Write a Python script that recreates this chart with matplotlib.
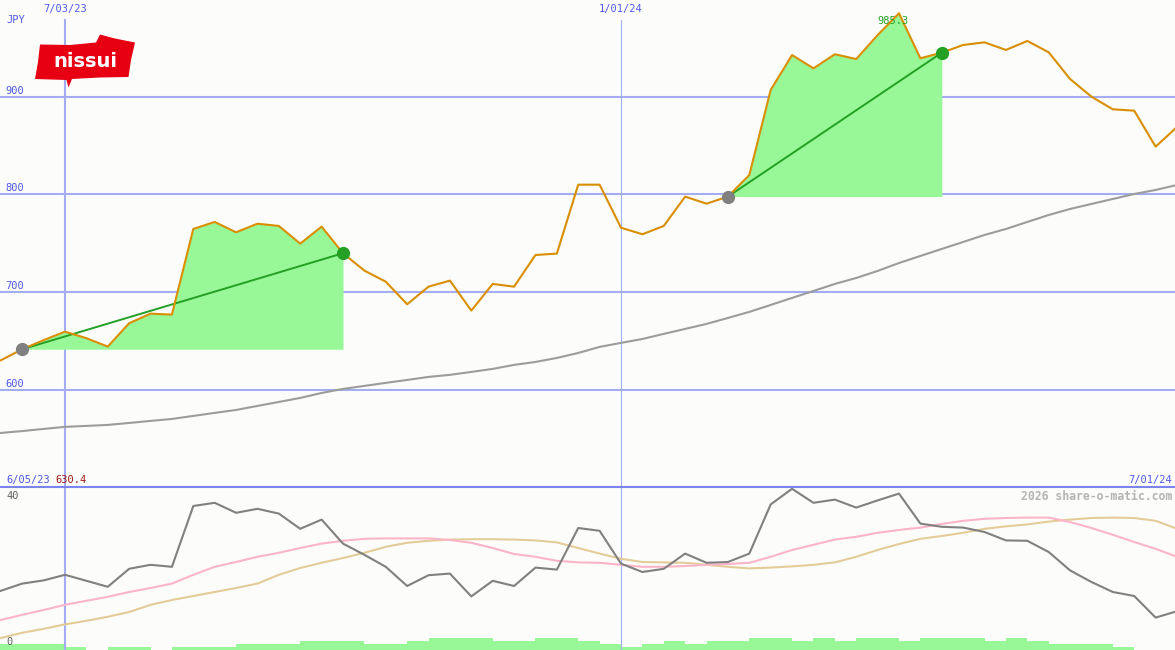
import matplotlib
matplotlib.use("Agg")
import matplotlib.dates as mdates
import matplotlib.pyplot as plt
import numpy as np
import pandas as pd
from matplotlib.patches import Polygon

W, H = 1175, 650
SPLIT = 487  # pixel row of the panel separator

BG = "#fcfdfa"
GRID = "#a4acf4"
SEP = "#7c84f0"
BLUE_TXT = "#5058e8"
ORANGE = "#d98e00"
FILL = "#98f898"
TREND = "#24a024"

# weekly closes, 12 Jun 2023 .. 24 Jun 2024 (JPY)
weeks = pd.date_range("2023-06-12", periods=56, freq="7D")
price = [
    630.4, 641.7, 651.0, 659.7, 653.0, 644.4, 668.3, 678.1, 677.1, 764.7,
    771.9, 761.3, 770.1, 767.8, 749.7, 767.1, 739.9, 722.1, 710.8, 687.7,
    705.7, 711.9, 681.2, 708.5, 705.7, 738.1, 739.5, 810.0, 810.0, 766.0,
    759.3, 767.8, 797.8, 790.6, 797.8, 819.9, 906.9, 942.6, 929.0, 943.4,
    938.5, 963.0, 985.3, 939.3, 945.0, 952.9, 955.6, 947.8, 957.0, 945.4,
    918.1, 900.0, 887.1, 885.7, 848.9, 869.0,
]
ma_long = [
    556.1, 558.0, 560.2, 562.3, 563.3, 564.3, 566.3, 568.4, 570.4, 573.5,
    576.6, 579.6, 583.7, 587.8, 591.9, 597.0, 601.1, 604.2, 607.3, 610.3,
    613.4, 615.5, 618.5, 621.6, 625.7, 628.7, 632.8, 637.9, 644.1, 648.2,
    652.2, 657.4, 662.5, 667.6, 673.7, 679.9, 687.0, 694.2, 701.3, 708.5,
    714.6, 721.8, 729.9, 737.1, 744.3, 751.4, 758.6, 764.7, 771.9, 779.0,
    785.2, 790.3, 795.4, 800.5, 804.6, 809.7,
]
osc = [
    14.8, 16.6, 17.4, 18.8, 17.3, 15.8, 20.3, 21.3, 20.8, 36.0,
    36.8, 34.3, 35.3, 34.1, 30.3, 32.6, 26.6, 23.8, 20.8, 16.0,
    18.7, 19.1, 13.4, 17.3, 16.0, 20.6, 20.1, 30.5, 29.8, 21.6,
    19.5, 20.3, 24.1, 21.8, 22.0, 24.1, 36.4, 40.3, 36.8, 37.6,
    35.6, 37.4, 39.1, 31.6, 30.8, 30.6, 29.5, 27.4, 27.3, 24.5,
    19.9, 17.0, 14.5, 13.5, 8.1, 9.7,
]
osc_fast = [
    7.5, 8.8, 10.0, 11.3, 12.3, 13.3, 14.5, 15.5, 16.6, 18.8,
    20.8, 22.0, 23.3, 24.3, 25.5, 26.6, 27.3, 27.8, 27.9, 27.9,
    27.9, 27.5, 26.8, 25.5, 24.0, 23.3, 22.3, 21.9, 21.8, 21.3,
    20.8, 20.8, 21.0, 21.3, 21.5, 21.8, 23.3, 25.0, 26.3, 27.6,
    28.3, 29.3, 30.0, 30.6, 31.5, 32.3, 32.8, 33.0, 33.1, 33.1,
    32.0, 30.5, 28.8, 27.0, 25.3, 23.3,
]
osc_slow = [
    3.0, 4.3, 5.3, 6.4, 7.3, 8.3, 9.5, 11.3, 12.5, 13.5,
    14.5, 15.5, 16.6, 18.8, 20.5, 21.8, 23.0, 24.3, 25.8, 26.8,
    27.3, 27.6, 27.7, 27.7, 27.6, 27.4, 26.9, 25.5, 24.1, 22.8,
    22.0, 21.9, 21.8, 21.3, 20.8, 20.4, 20.6, 20.9, 21.3, 21.9,
    23.3, 25.0, 26.5, 27.8, 28.5, 29.3, 30.3, 30.9, 31.4, 32.1,
    32.6, 33.0, 33.1, 33.0, 32.3, 30.3,
]
volume = [
    2, 2, 2, 2, 1, 0, 1, 1, 0, 1,
    1, 1, 2, 2, 2, 3, 3, 3, 2, 2,
    3, 4, 4, 4, 3, 3, 4, 4, 3, 2,
    1, 2, 3, 2, 3, 3, 4, 4, 3, 4,
    3, 4, 4, 3, 4, 4, 4, 3, 4, 3,
    2, 2, 2, 1, 0, 0,
]
swings = [("2023-06-19", "2023-10-02"), ("2024-02-05", "2024-04-15")]
grid_prices = [600, 700, 800, 900]
grid_dates = ["2023-07-03", "2024-01-01"]

plt.rcParams["font.family"] = ["DejaVu Sans Mono"]

fig = plt.figure(figsize=(W / 100, H / 100), dpi=100, facecolor=BG)
ax = fig.add_axes([0, (H - SPLIT) / H, 1, SPLIT / H])
axo = fig.add_axes([0, 0, 1, (H - SPLIT) / H])
for a in (ax, axo):
    a.set_facecolor(BG)
    a.set_xticks([])
    a.set_yticks([])
    for s in a.spines.values():
        s.set_visible(False)

# x scale: 7/03/23 sits at px 65, 1/01/24 at px 621
d0 = mdates.date2num(pd.Timestamp(grid_dates[0]))
d1 = mdates.date2num(pd.Timestamp(grid_dates[1]))
ppd = (621 - 65) / (d1 - d0)
xlim = (d0 - 65 / ppd, d0 + (W - 65) / ppd)
ax.set_xlim(xlim)
axo.set_xlim(xlim)
ax.set_ylim(500.8, 998.9)
axo.set_ylim(0, (H - SPLIT) / 4)

x = mdates.date2num(weeks)
price = np.array(price)

for gp in grid_prices:
    ax.axhline(gp, color=GRID, lw=1.5, zorder=1)
    ax.annotate(str(gp), (0, gp), xycoords=("axes fraction", "data"),
                xytext=(5, 1), textcoords="offset pixels", fontsize=7.5,
                color=BLUE_TXT, va="bottom")
for i, gd in enumerate(grid_dates):
    gx = mdates.date2num(pd.Timestamp(gd))
    lw = 1.5 if i == 0 else 0.8
    ax.axvline(gx, ymax=1 - 20 / SPLIT, color=GRID, lw=lw, zorder=1)
    axo.axvline(gx, color=GRID, lw=lw, zorder=1)
    ax.text(gx, 1 - 9 / SPLIT, pd.Timestamp(gd).strftime("%-m/%d/%y"),
            transform=ax.get_xaxis_transform(), ha="center", va="center",
            fontsize=7.5, color=BLUE_TXT)

# swing fills and trend lines
for start, end in swings:
    s = int(np.searchsorted(weeks, pd.Timestamp(start)))
    e = int(np.searchsorted(weeks, pd.Timestamp(end)))
    base = price[s]
    ax.fill_between(x[s:e + 1], base, price[s:e + 1], color=FILL, lw=0, zorder=2)
    ax.plot([x[s], x[e]], [price[s], price[e]], color=TREND, lw=1.4, zorder=4)
    ax.plot(x[s], price[s], "o", ms=8.5, color="#808080", zorder=5)
    ax.plot(x[e], price[e], "o", ms=8.5, color=TREND, zorder=5)

ax.plot(x, ma_long, color="#9c9c9c", lw=1.5, zorder=3)
ax.plot(x, price, color=ORANGE, lw=1.5, zorder=4)

pk = int(np.argmax(price))
ax.annotate(f"{price[pk]:.1f}", (x[pk], price[pk]), xytext=(-6, -8),
            textcoords="offset pixels", ha="center", va="center",
            fontsize=7.5, color=TREND, zorder=6)

ax.text(6 / W, 1 - 20 / SPLIT, "JPY", transform=ax.transAxes, fontsize=7.5,
        color=BLUE_TXT, va="center")

# lower panel
axv = axo.twinx()
axv.set_ylim(0, (H - SPLIT) / 3)
axv.set_yticks([])
for s in axv.spines.values():
    s.set_visible(False)
axv.bar(x, volume, width=-7, align="edge", color=FILL, lw=0, zorder=1)
axo.set_zorder(axv.get_zorder() + 1)
axo.patch.set_visible(False)

axo.plot(x, osc_slow, color="#e4cc98", lw=1.5, zorder=3)
axo.plot(x, osc_fast, color="#fcb4c8", lw=1.5, zorder=3)
axo.plot(x, osc, color="#808080", lw=1.5, zorder=4)
axo.axhline(axo.get_ylim()[1], color=SEP, lw=1.5, clip_on=False, zorder=5)

axo.text(6 / W, 1 - 9 / (H - SPLIT), "40", transform=axo.transAxes,
         fontsize=7.5, color="#606060", va="center")
axo.text(6 / W, 8 / (H - SPLIT), "0", transform=axo.transAxes,
         fontsize=7.5, color="#606060", va="center")
fig.text(6 / W, 1 - 480 / H, "6/05/23", fontsize=7.5, color=BLUE_TXT, va="center")
fig.text(55 / W, 1 - 480 / H, f"{price.min():.1f}", fontsize=7.5,
         color="#a01818", va="center")
fig.text(1172 / W, 1 - 480 / H, "7/01/24", fontsize=7.5, color=BLUE_TXT,
         va="center", ha="right")
fig.text(1172 / W, 1 - 496 / H, "2026 share-o-matic.com", fontsize=8.3,
         color="#b4b4b4", va="center", ha="right", weight="bold")

# logo
lg = fig.add_axes([33 / W, 1 - 90 / H, 104 / W, 58 / H])
lg.set_xlim(33, 137)
lg.set_ylim(90, 32)
lg.axis("off")
flag = [(40, 44.5), (70, 45), (96, 42.5), (100, 34.5), (115, 38.5), (135, 42.5),
        (131, 60), (128.5, 77), (100, 77.5), (72, 79), (68.5, 87.5), (66.5, 80),
        (35, 79), (38, 62)]
lg.add_patch(Polygon(flag, closed=True, color="#e60012", lw=0))
lg.text(85, 61.5, "nissui", ha="center", va="center", color="white",
        fontsize=14, weight="bold", family="DejaVu Sans")

fig.savefig("out.png", dpi=100, facecolor=BG)
